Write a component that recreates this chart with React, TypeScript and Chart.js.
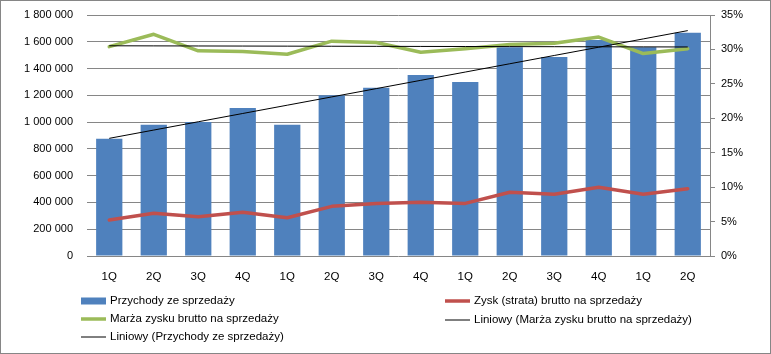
import React, { useEffect, useRef } from 'react';
import { Chart, registerables } from 'chart.js';

Chart.register(...registerables);

const categories = ['1Q', '2Q', '3Q', '4Q', '1Q', '2Q', '3Q', '4Q', '1Q', '2Q', '3Q', '4Q', '1Q', '2Q'];
const revenue = [875000, 980000, 1000000, 1105000, 980000, 1200000, 1257000, 1352000, 1300000, 1560000, 1486000, 1613000, 1559000, 1668000];
const grossProfit = [269000, 319000, 294000, 326000, 286000, 371000, 393000, 401000, 393000, 476000, 461000, 513000, 461000, 503000];
const grossMarginPct = [30.4, 32.2, 29.8, 29.7, 29.3, 31.2, 31.0, 29.6, 30.1, 30.7, 30.9, 31.8, 29.4, 30.1];

const labelRevenue = 'Przychody ze sprzedaży';
const labelProfit = 'Zysk (strata) brutto na sprzedaży';
const labelMargin = 'Marża zysku brutto na sprzedaży';
const labelTrendMargin = 'Liniowy (Marża zysku brutto na sprzedaży)';
const labelTrendRevenue = 'Liniowy (Przychody ze sprzedaży)';

const leftMax = 1800000;
const leftStep = 200000;
const rightMax = 35;
const rightStep = 5;

// least-squares linear trend (as Excel's "Liniowy" trendline)
function linearTrend(values: number[]): number[] {
  const n = values.length;
  const mx = (n - 1) / 2;
  const my = values.reduce((a, b) => a + b, 0) / n;
  let num = 0;
  let den = 0;
  values.forEach((v, i) => {
    num += (i - mx) * (v - my);
    den += (i - mx) * (i - mx);
  });
  const slope = num / den;
  return values.map((_, i) => my + slope * (i - mx));
}

const FONT = "'Liberation Sans', Arial, sans-serif";
const GRID = '#868686';

const legendPlugin = {
  id: 'customLegend',
  afterDraw(chart: any) {
    const ctx = chart.ctx;
    const ds = chart.data.datasets;
    const items = [
      { d: ds[0], x: 81, y: 301, kind: 'box' },
      { d: ds[1], x: 445, y: 301, kind: 'line' },
      { d: ds[2], x: 81, y: 319, kind: 'line' },
      { d: ds[4], x: 445, y: 320, kind: 'line' },
      { d: ds[3], x: 81, y: 337, kind: 'line' },
    ];
    ctx.save();
    ctx.font = `11.5px ${FONT}`;
    ctx.textBaseline = 'middle';
    ctx.textAlign = 'left';
    for (const it of items) {
      if (it.kind === 'box') {
        ctx.fillStyle = it.d.backgroundColor;
        ctx.fillRect(it.x, it.y - 3.5, 25, 7);
      } else {
        ctx.strokeStyle = it.d.borderColor;
        ctx.lineWidth = it.d.borderWidth;
        ctx.lineCap = 'butt';
        ctx.beginPath();
        ctx.moveTo(it.x, it.y);
        ctx.lineTo(it.x + 25, it.y);
        ctx.stroke();
      }
      ctx.fillStyle = '#000';
      ctx.fillText(it.d.label, it.x + 29, it.y);
    }
    // outer frame
    ctx.strokeStyle = GRID;
    ctx.lineWidth = 1;
    ctx.strokeRect(0.5, 0.5, chart.width - 1, chart.height - 1);
    ctx.restore();
  },
};

const bgPlugin = {
  id: 'whiteBg',
  beforeDraw(chart: any) {
    const ctx = chart.ctx;
    ctx.save();
    ctx.fillStyle = '#fff';
    ctx.fillRect(0, 0, chart.width, chart.height);
    ctx.restore();
  },
};

export default function App() {
  const ref = useRef<HTMLCanvasElement | null>(null);

  useEffect(() => {
    if (!ref.current) return;
    const fmtThousands = (v: number) => String(Math.round(v)).replace(/\B(?=(\d{3})+(?!\d))/g, ' ');
    const chart = new Chart(ref.current, {
      type: 'bar',
      data: {
        labels: categories,
        datasets: [
          {
            type: 'bar',
            label: labelRevenue,
            data: revenue,
            backgroundColor: '#4F81BD',
            borderWidth: 0,
            barPercentage: 0.59,
            categoryPercentage: 1,
            yAxisID: 'y',
            order: 10,
          },
          {
            type: 'line',
            label: labelProfit,
            data: grossProfit,
            borderColor: '#C0504D',
            backgroundColor: '#C0504D',
            borderWidth: 3.5,
            pointRadius: 0,
            tension: 0,
            borderJoinStyle: 'round',
            borderCapStyle: 'round',
            yAxisID: 'y',
            order: 3,
          },
          {
            type: 'line',
            label: labelMargin,
            data: grossMarginPct,
            borderColor: '#9BBB59',
            backgroundColor: '#9BBB59',
            borderWidth: 3.5,
            pointRadius: 0,
            tension: 0,
            borderJoinStyle: 'round',
            borderCapStyle: 'round',
            yAxisID: 'y1',
            order: 2,
          },
          {
            type: 'line',
            label: labelTrendRevenue,
            data: linearTrend(revenue),
            borderColor: '#000',
            backgroundColor: '#000',
            borderWidth: 1,
            pointRadius: 0,
            tension: 0,
            yAxisID: 'y',
            order: 1,
          },
          {
            type: 'line',
            label: labelTrendMargin,
            data: linearTrend(grossMarginPct),
            borderColor: '#000',
            backgroundColor: '#000',
            borderWidth: 1,
            pointRadius: 0,
            tension: 0,
            yAxisID: 'y1',
            order: 1,
          },
        ],
      },
      options: {
        responsive: false,
        animation: false,
        devicePixelRatio: 1,
        layout: { padding: { top: 15, left: 0, right: 0, bottom: 68 } },
        plugins: {
          legend: { display: false },
          tooltip: { enabled: false },
        },
        scales: {
          x: {
            offset: true,
            grid: { display: false, drawTicks: false },
            border: { display: false },
            ticks: { padding: 14, color: '#000', font: { family: FONT, size: 11.5 }, maxRotation: 0, autoSkip: false },
            afterFit: (s: any) => { s.height = 30; s.paddingLeft = 0; s.paddingRight = 0; },
          },
          y: {
            position: 'left',
            min: 0,
            max: leftMax,
            ticks: {
              stepSize: leftStep,
              padding: 14,
              color: '#000',
              font: { family: FONT, size: 11 },
              callback: (v: any) => fmtThousands(Number(v)),
            },
            grid: { color: GRID, drawTicks: false, lineWidth: 1 },
            border: { display: false },
            afterFit: (s: any) => { s.width = 87; s.paddingTop = 0; s.paddingBottom = 0; },
          },
          y1: {
            position: 'right',
            min: 0,
            max: rightMax,
            ticks: {
              stepSize: rightStep,
              padding: 6,
              color: '#000',
              font: { family: FONT, size: 11 },
              callback: (v: any) => `${Math.round(Number(v))}%`,
            },
            grid: { drawOnChartArea: false, drawTicks: true, tickLength: 5, color: GRID },
            border: { display: true, color: GRID },
            afterFit: (s: any) => { s.width = 61; s.paddingTop = 0; s.paddingBottom = 0; },
          },
        },
      },
      plugins: [bgPlugin, legendPlugin],
    } as any);
    return () => chart.destroy();
  }, []);

  return (
    <div style={{ position: 'fixed', left: 0, top: 0, width: 771, height: 354, background: '#fff' }}>
      <canvas ref={ref} width={771} height={354} style={{ display: 'block', width: 771, height: 354 }} />
    </div>
  );
}
